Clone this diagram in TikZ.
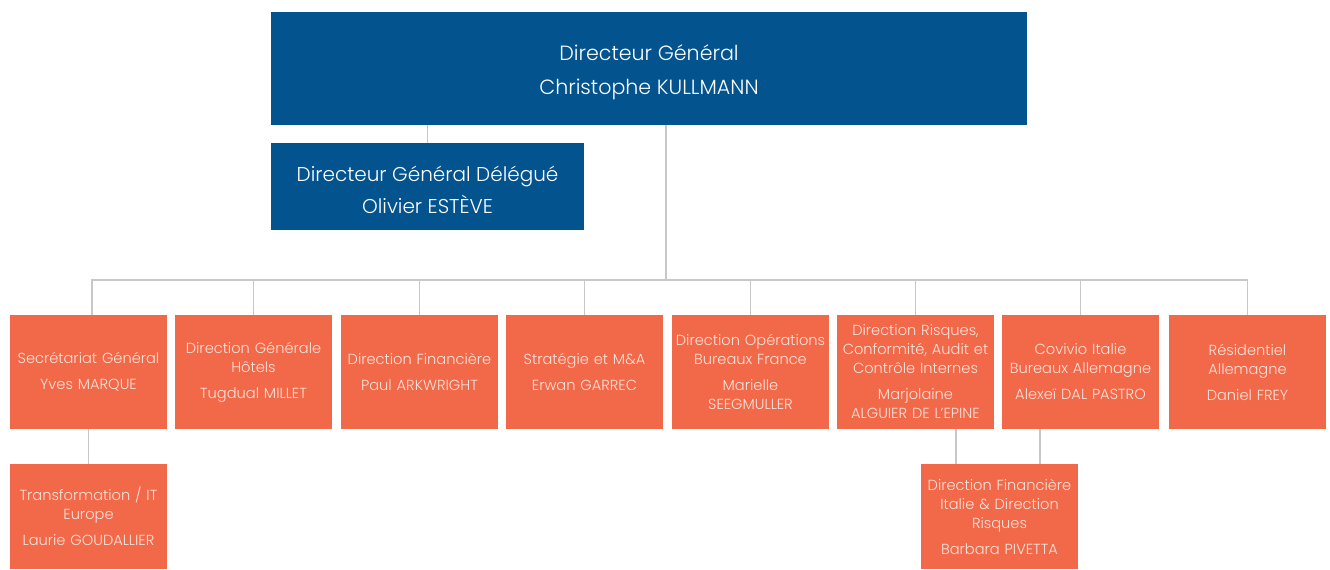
\documentclass[tikz,border=0pt]{standalone}
\usepackage{fontspec}
\setmainfont{Poppins}[UprightFont=* Light]
\definecolor{cblue}{HTML}{03538F}
\definecolor{corange}{HTML}{F2694A}
\definecolor{ctext}{HTML}{FFE3DA}
\definecolor{cline}{HTML}{C8C8C8}
\begin{document}
\begin{tikzpicture}[x=1pt,y=-1pt,
  bluebox/.style={fill=cblue,inner sep=0pt},
  bluetext/.style={text=white,align=center,inner sep=0pt},
  orbox/.style={fill=corange,text=ctext,inner sep=0pt,align=center,
    minimum width=157pt,minimum height=114pt,text width=152pt,
    font=\fontsize{14.6}{19}\selectfont},
  conn/.style={draw=cline,line width=1.4pt}]
\useasboundingbox (0,0) rectangle (1330,570);
\node[bluebox,minimum width=756pt,minimum height=113pt] (top) at (649,68.5) {};
\node[bluetext,font=\fontsize{20.6}{34}\selectfont] (toptxt) at (649,72) {Directeur Général\\Christophe KULLMANN};
\node[bluebox,minimum width=313pt,minimum height=87pt] (dgd) at (427.5,186.5) {};
\node[bluetext,font=\fontsize{20}{32}\selectfont] (dgdtxt) at (427.5,190) {Directeur Général Délégué\\Olivier ESTÈVE};
\coordinate (bus) at (666,280);
\node[orbox] (b1) at (88.5,372) {Secrétariat Général\\[7pt]Yves MARQUE};
\node[orbox] (b2) at (253.5,372) {Direction Générale\\Hôtels\\[7pt]Tugdual MILLET};
\node[orbox] (b3) at (419.5,372) {Direction Financière\\[7pt]Paul ARKWRIGHT};
\node[orbox] (b4) at (584.5,372) {Stratégie et M\&A\\[7pt]Erwan GARREC};
\node[orbox] (b5) at (750.5,372) {Direction Opérations\\Bureaux France\\[7pt]Marielle\\SEEGMULLER};
\node[orbox] (b6) at (915.5,372) {Direction Risques,\\Conformité, Audit et\\Contrôle Internes\\[7pt]Marjolaine\\ALGUIER DE L'EPINE};
\node[orbox] (b7) at (1080.5,372) {Covivio Italie\\Bureaux Allemagne\\[7pt]Alexeï DAL PASTRO};
\node[orbox] (b8) at (1247.5,372) {Résidentiel\\Allemagne\\[7pt]Daniel FREY};
\node[orbox,minimum height=105pt] (tr) at (88.5,516.5) {Transformation / IT\\Europe\\[7pt]Laurie GOUDALLIER};
\node[orbox,minimum height=105pt] (bp) at (999.5,516.5) {Direction Financière\\Italie \& Direction\\Risques\\[7pt]Barbara PIVETTA};
% connectors
\draw[conn] (dgd.north) -- (dgd.north |- top.south);
\draw[conn] (top.south -| bus) -- (bus);
\draw[conn] ([xshift=3.5pt]b1.north) |- (bus);
\draw[conn] (b8.north) |- (bus);
\foreach \b in {b2,b3,b4,b5,b6,b7}{\draw[conn] (\b.north) -- (\b.north |- bus);}
\draw[conn] (b1.south) -- (tr.north);
\draw[conn] ([xshift=-43.5pt]bp.north) -- ([xshift=-43.5pt]bp.north |- b6.south);
\draw[conn] ([xshift=40.5pt]bp.north) -- ([xshift=40.5pt]bp.north |- b7.south);
\end{tikzpicture}
\end{document}
